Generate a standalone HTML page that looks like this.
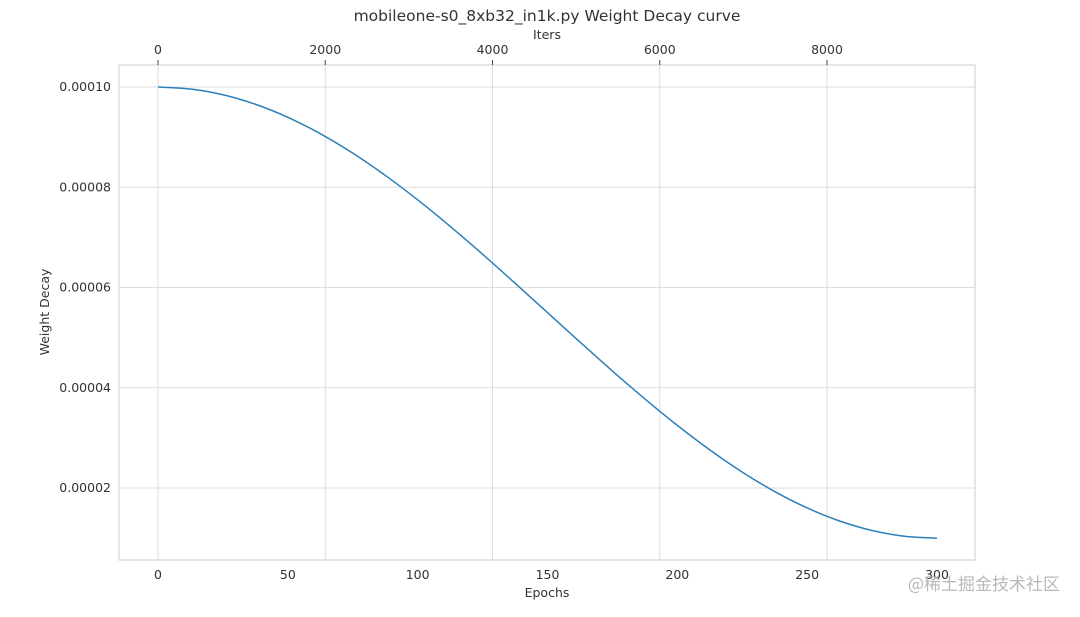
<!DOCTYPE html>
<html><head><meta charset="utf-8"><style>
body{margin:0;background:#fff;width:1080px;height:612px;overflow:hidden;font-family:"Liberation Sans","DejaVu Sans",sans-serif}
text{font-family:"DejaVu Sans","Liberation Sans",sans-serif;fill:#333}
</style></head><body>
<svg width="1080" height="612">
<rect x="119" y="65" width="856" height="495" fill="#fff" stroke="#ccc"/>
<g id="grid"></g>
<g id="axes"></g>
<path id="curve" fill="none" stroke="#2c7fb8" stroke-width="1.5"/>
<text x="547" y="21" text-anchor="middle" font-size="15.5">mobileone-s0_8xb32_in1k.py Weight Decay curve</text>
<text x="547" y="39" text-anchor="middle" font-size="12.5">Iters</text>
<text x="547" y="597" text-anchor="middle" font-size="12.5">Epochs</text>
<text transform="translate(49,312) rotate(-90)" text-anchor="middle" font-size="12.5">Weight Decay</text>
<text x="1060" y="590" text-anchor="end" font-size="17" style="fill:#b8b8b8;font-family:'Noto Sans CJK SC',sans-serif">@稀土掘金技术社区</text>
</svg>
<script>
const epochs=[0,12.5,25,37.5,50,62.5,75,87.5,100,112.5,125,137.5,150,162.5,175,187.5,200,212.5,225,237.5,250,262.5,275,287.5,300];
const wdValues=[10.0,9.961,9.847,9.657,9.397,9.070,8.682,8.239,7.75,7.222,6.665,6.087,5.5,4.913,4.335,3.778,3.25,2.761,2.318,1.930,1.603,1.343,1.153,1.039,1.0].map(v=>v*1e-5);
const epochTicks=[0,50,100,150,200,250,300];
const iterTicks=[0,2000,4000,6000,8000];
const yTicks=[0.00002,0.00004,0.00006,0.00008,0.0001];
const yTickLabels=["0.00002","0.00004","0.00006","0.00008","0.00010"];
const NS="http://www.w3.org/2000/svg";
const xE=e=>158+e*(937-158)/300;
const xI=i=>158+i*(827-158)/8000;
const yV=v=>588.3-v*(488-87)/0.00008;
const grid=document.getElementById('grid'),axes=document.getElementById('axes');
function mk(tag,attrs,parent){const el=document.createElementNS(NS,tag);for(const k in attrs)el.setAttribute(k,attrs[k]);parent.appendChild(el);return el;}
yTicks.forEach((v,i)=>{
 const l=mk('line',{x1:119,x2:975,y1:yV(v),y2:yV(v),stroke:'#ddd'},grid);
 
 
 const t=mk('text',{x:111,y:yV(v)+4,'text-anchor':'end','font-size':12.5},axes);t.textContent=yTickLabels[i];
 
 
});
iterTicks.forEach(it=>{
 const l=mk('line',{x1:xI(it),x2:xI(it),y1:65,y2:560,stroke:'#ddd'},grid);
 
 
 mk('line',{x1:xI(it),x2:xI(it),y1:60,y2:65,stroke:'#444'},axes);
 const t=mk('text',{x:xI(it),y:54,'text-anchor':'middle','font-size':12.5},axes);t.textContent=it;
 
 
});
epochTicks.forEach(e=>{
 const t=mk('text',{x:xE(e),y:579,'text-anchor':'middle','font-size':12.5},axes);t.textContent=e;
 
 
});
const pts=epochs.map((e,i)=>[xE(e),yV(wdValues[i])]);
let d='M'+pts[0][0]+','+pts[0][1];
for(let i=0;i<pts.length-1;i++){
 const p0=pts[Math.max(0,i-1)],p1=pts[i],p2=pts[i+1],p3=pts[Math.min(pts.length-1,i+2)];
 d+=' C'+(p1[0]+(p2[0]-p0[0])/6)+','+(p1[1]+(p2[1]-p0[1])/6)+' '+(p2[0]-(p3[0]-p1[0])/6)+','+(p2[1]-(p3[1]-p1[1])/6)+' '+p2[0]+','+p2[1];
}
document.getElementById('curve').setAttribute('d',d);
</script>
</body></html>
